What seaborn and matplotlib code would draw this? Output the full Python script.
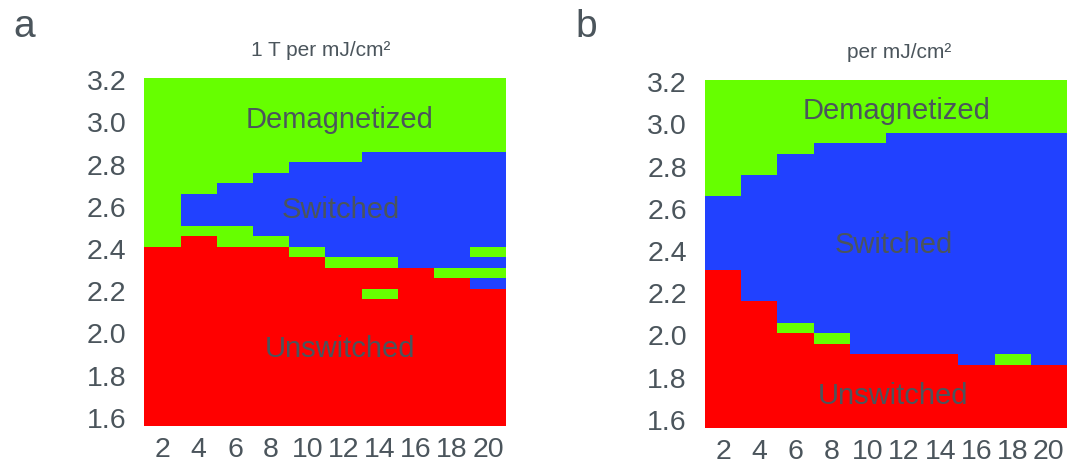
import numpy as np
import pandas as pd
import matplotlib
matplotlib.use("Agg")
import matplotlib.pyplot as plt
from matplotlib.colors import ListedColormap
import seaborn as sns

# fluence axis (column centres) and field axis (row centres, top to bottom)
fluence = [2, 4, 6, 8, 10, 12, 14, 16, 18, 20]
field = [round(3.2 - 0.05 * i, 2) for i in range(33)]

# state runs per column, read from top (3.20) to bottom (1.60)
# D = demagnetized, S = switched, U = unswitched
runs_a = [
    [("D", 16), ("U", 17)],
    [("D", 11), ("S", 3), ("D", 1), ("U", 18)],
    [("D", 10), ("S", 4), ("D", 2), ("U", 17)],
    [("D", 9), ("S", 6), ("D", 1), ("U", 17)],
    [("D", 8), ("S", 8), ("D", 1), ("U", 16)],
    [("D", 8), ("S", 9), ("D", 1), ("U", 15)],
    [("D", 7), ("S", 10), ("D", 1), ("U", 2), ("D", 1), ("U", 12)],
    [("D", 7), ("S", 11), ("U", 15)],
    [("D", 7), ("S", 11), ("D", 1), ("U", 14)],
    [("D", 7), ("S", 9), ("D", 1), ("S", 1), ("D", 1), ("S", 1), ("U", 13)],
]
runs_b = [
    [("D", 11), ("S", 7), ("U", 15)],
    [("D", 9), ("S", 12), ("U", 12)],
    [("D", 7), ("S", 16), ("D", 1), ("U", 9)],
    [("D", 6), ("S", 18), ("D", 1), ("U", 8)],
    [("D", 6), ("S", 20), ("U", 7)],
    [("D", 5), ("S", 21), ("U", 7)],
    [("D", 5), ("S", 21), ("U", 7)],
    [("D", 5), ("S", 22), ("U", 6)],
    [("D", 5), ("S", 21), ("D", 1), ("U", 6)],
    [("D", 5), ("S", 22), ("U", 6)],
]

titles = ["1 T per mJ/cm\u00b2", "per mJ/cm\u00b2"]
letters = ["a", "b"]
region_names = ["Demagnetized", "Switched", "Unswitched"]
# label anchor (fluence, field at baseline)
labels_a = [(11.8, 2.99), (11.85, 2.56), (11.8, 1.90)]
labels_b = [(11.6, 3.04), (11.45, 2.405), (11.4, 1.69)]

code = {"U": 0, "S": 1, "D": 2}
cmap = ListedColormap(["#ff0000", "#2141ff", "#66ff00"])
txt = "#4b555c"


def build_frame(runs):
    cols = []
    for col in runs:
        states = []
        for s, n in col:
            states += [code[s]] * n
        cols.append(states)
    return pd.DataFrame(np.array(cols).T, index=field, columns=fluence)


sns.set_theme(style="white")
plt.rcParams["font.family"] = ["Liberation Sans", "DejaVu Sans"]

fig = plt.figure(figsize=(10.79, 4.69), dpi=100)
positions = [[0.1339, 0.0917, 0.3355, 0.742], [0.6534, 0.0874, 0.3355, 0.742]]
title_x = [0.488, 0.536]
letter_x = [13 / 1079, 575 / 1079]

for p, runs in enumerate([runs_a, runs_b]):
    ax = fig.add_axes(positions[p])
    df = build_frame(runs)
    ylab = [f"{v:.1f}" if i % 4 == 0 else "" for i, v in enumerate(field)]
    sns.heatmap(df, ax=ax, cmap=cmap, vmin=-0.5, vmax=2.5, cbar=False,
                xticklabels=[str(f) for f in fluence], yticklabels=ylab)
    ax.tick_params(axis="both", length=0, labelsize=20.5, colors=txt)
    ax.tick_params(axis="y", pad=13)
    ax.tick_params(axis="x", pad=8)
    plt.setp(ax.get_yticklabels(), rotation=0)
    plt.setp(ax.get_xticklabels(), rotation=0)
    ax.set_xlabel("")
    ax.set_ylabel("")
    ax.set_title(titles[p], fontsize=15, color=txt, pad=16, x=title_x[p])

    anchors = labels_a if p == 0 else labels_b
    for name, (fx, fy) in zip(region_names, anchors):
        ax.text((fx - 1) / 2, (3.225 - fy) / 0.05, name, ha="center",
                va="baseline", fontsize=21, color=txt)

    fig.text(letter_x[p], 1 - 37 / 469, letters[p], fontsize=28,
             color=txt, va="baseline", ha="left")

fig.savefig("out.png", dpi=100)
